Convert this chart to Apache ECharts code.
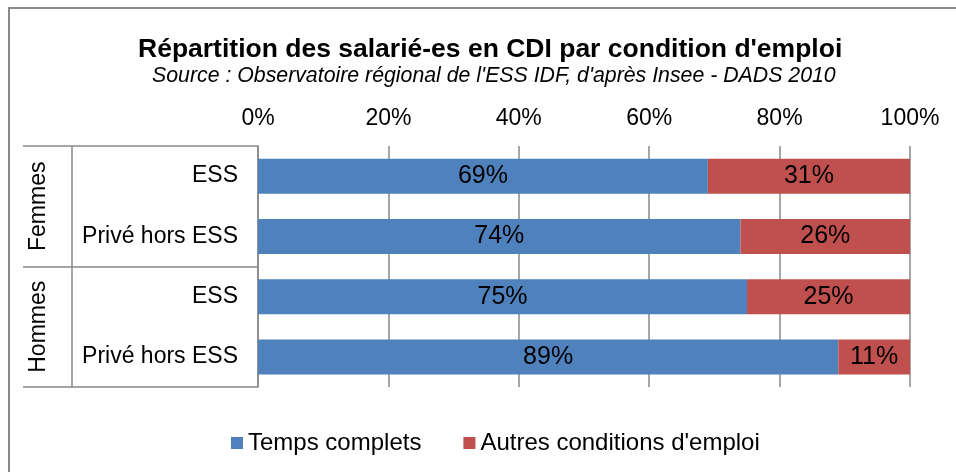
<!DOCTYPE html>
<html>
<head>
<meta charset="utf-8">
<script src="https://cdn.jsdelivr.net/npm/echarts@6/dist/echarts.min.js"></script>
<style>
  html, body { margin: 0; padding: 0; background: #fff; }
  #main { width: 956px; height: 472px; }
</style>
</head>
<body>
<div id="main"></div>
<script>
    'use strict';

    // data
    var categories = ['ESS', 'Privé hors ESS', 'ESS', 'Privé hors ESS'];
    var groups = ['Femmes', 'Hommes'];
    var tempsComplets = [69, 74, 75, 89];
    var autresConditions = [31, 26, 25, 11];
    var seriesNames = ['Temps complets', "Autres conditions d'emploi"];

    var font = '"Liberation Sans", Arial, sans-serif';
    var gray = '#898989';

    var myChart = echarts.init(document.getElementById('main'));

    var option = {
        animation: false,
        textStyle: { fontFamily: font, color: '#000' },
        color: ['#4F81BD', '#C0504D'],
        title: [{
            text: "Répartition des salarié-es en CDI par condition d'emploi",
            left: 133,
            top: 31,
            textStyle: { fontFamily: font, fontSize: 26.5, fontWeight: 'bold', color: '#000' }
        }, {
            text: "Source : Observatoire régional de l'ESS IDF, d'après Insee - DADS 2010",
            left: 147,
            top: 61,
            textStyle: { fontFamily: font, fontSize: 21.3, fontStyle: 'italic', fontWeight: 'normal', color: '#000' }
        }],
        legend: {
            data: seriesNames,
            left: 226,
            top: 426,
            icon: 'rect',
            itemWidth: 12,
            itemHeight: 12,
            itemGap: 42,
            textStyle: { fontFamily: font, fontSize: 24, color: '#000' }
        },
        grid: { left: 258, right: 46, top: 146, bottom: 85 },
        xAxis: {
            type: 'value',
            position: 'top',
            min: 0,
            max: 100,
            interval: 20,
            axisLine: { show: false },
            axisTick: { show: false },
            axisLabel: { formatter: '{value}%', fontSize: 23, margin: 16, color: '#000', fontFamily: font },
            splitLine: { lineStyle: { color: gray, width: 1.5 } }
        },
        yAxis: [{
            type: 'category',
            data: categories,
            inverse: true,
            axisLine: { lineStyle: { color: gray, width: 1.5 } },
            axisTick: {
                show: true,
                length: 235,
                interval: function(index) { return index % 2 === 0; },
                lineStyle: { color: gray, width: 1.5 }
            },
            axisLabel: { fontSize: 23, margin: 20, color: '#000', fontFamily: font }
        }, {
            type: 'category',
            data: groups,
            inverse: true,
            position: 'left',
            offset: 186,
            axisLine: { lineStyle: { color: gray, width: 1.5 } },
            axisTick: { show: false },
            splitLine: { show: false },
            axisLabel: { rotate: 90, fontSize: 23, margin: 22, color: '#000', fontFamily: font }
        }],
        series: [{
            name: seriesNames[0],
            type: 'bar',
            stack: 'total',
            barWidth: 35,
            data: tempsComplets,
            label: { show: true, position: 'inside', formatter: '{c}%', fontSize: 25, color: '#000', fontFamily: font }
        }, {
            name: seriesNames[1],
            type: 'bar',
            stack: 'total',
            barWidth: 35,
            data: autresConditions,
            label: { show: true, position: 'inside', formatter: '{c}%', fontSize: 25, color: '#000', fontFamily: font }
        }],
        graphic: [{
            type: 'rect',
            shape: { x: 9, y: 8, width: 1100, height: 600 },
            style: { fill: 'none', stroke: gray, lineWidth: 2 },
            silent: true
        }]
    };

    myChart.setOption(option);
</script>
</body>
</html>
